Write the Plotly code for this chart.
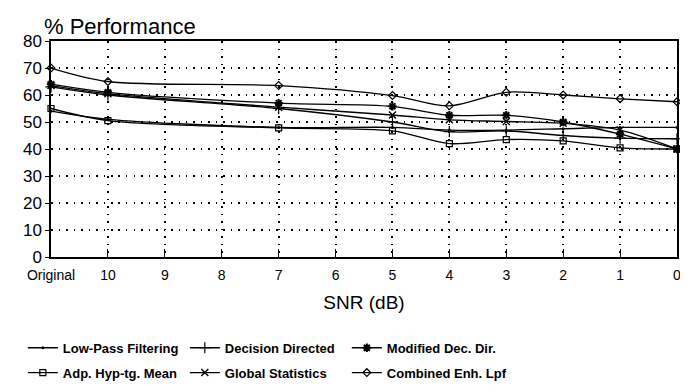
import plotly.graph_objects as go

snr_labels = ["Original", "10", "9", "8", "7", "6", "5", "4", "3", "2", "1", "0"]

low_pass = [54, 51, None, None, 48, None, 48, 47, 47, 47.5, 48, 48]
decision_directed = [63, 60, None, None, 55, None, 50, 46.4, 46.7, 45, 44, 43.8]
modified_dec_dir = [64, 61, None, None, 57, None, 55.8, 52.5, 52.5, 50, 45.5, 40]
adp_hyp_mean = [55, 50.5, None, None, 47.8, None, 46.7, 42, 43.5, 43, 40.4, 40]
global_stats = [63.5, 60.5, None, None, 55.5, None, 52.6, 50.8, 50.2, 49.5, 47, 40]
combined_enh = [70, 65, None, None, 63.5, None, 59.8, 56, 61, 60, 58.6, 57.5]

series = [
    ("Low-Pass Filtering", low_pass, dict(symbol="circle", size=3, color="black"), "legend"),
    ("Decision Directed", decision_directed, dict(symbol="cross-thin-open", size=8, color="black", line=dict(width=1.2, color="black")), "legend"),
    ("Modified Dec. Dir.", modified_dec_dir, dict(symbol="asterisk-open", size=7, color="black", line=dict(width=2, color="black")), "legend"),
    ("Adp. Hyp-tg. Mean", adp_hyp_mean, dict(symbol="square-open", size=6, color="black", line=dict(width=1.2, color="black")), "legend2"),
    ("Global Statistics", global_stats, dict(symbol="x-thin-open", size=7, color="black", line=dict(width=1.4, color="black")), "legend2"),
    ("Combined Enh. Lpf", combined_enh, dict(symbol="diamond-open", size=6, color="black", line=dict(width=1.2, color="black")), "legend2"),
]

fig = go.Figure()
for name, vals, mk, lg in series:
    xs = [i for i, v in enumerate(vals) if v is not None]
    ys = [v for v in vals if v is not None]
    fig.add_trace(go.Scatter(
        x=xs, y=ys, name=name, mode="lines+markers", legend=lg,
        line=dict(color="black", width=1.3, shape="spline", smoothing=0.9),
        marker=mk, cliponaxis=False,
    ))

leg_common = dict(
    orientation="h", xanchor="left", yanchor="top",
    entrywidth=117, entrywidthmode="pixels",
    font=dict(size=13, family="Liberation Sans, Arial, sans-serif", weight="bold"),
    itemwidth=30, bgcolor="rgba(0,0,0,0)",
)

fig.update_layout(
    width=688, height=391,
    margin=dict(l=43, r=19, t=33, b=129),
    paper_bgcolor="white", plot_bgcolor="white",
    font=dict(family="Liberation Sans, Arial, sans-serif", color="black"),
    showlegend=True,
    legend=dict(x=-0.045, y=-0.351, **leg_common),
    legend2=dict(x=-0.045, y=-0.466, **leg_common),
    annotations=[dict(
        text="% Performance", x=0, y=1, xref="paper", yref="paper",
        xanchor="left", yanchor="bottom", xshift=-9, yshift=0, showarrow=False,
        font=dict(size=22),
    )],
)

fig.update_xaxes(
    range=[0, 11], tickmode="array", tickvals=list(range(12)), ticktext=snr_labels,
    showgrid=True, gridcolor="black", griddash="1.5px,6px", gridwidth=1.5,
    showline=True, linecolor="black", linewidth=1.5, mirror=True,
    ticks="inside", ticklen=8, tickcolor="black", ticklabelstandoff=4,
    tickfont=dict(size=14), zeroline=False,
    title=dict(text="SNR (dB)", font=dict(size=19), standoff=14),
)
fig.update_yaxes(
    range=[0, 80], dtick=10,
    showgrid=True, gridcolor="black", griddash="1.5px,6px", gridwidth=1.5,
    showline=True, linecolor="black", linewidth=1.5, mirror=True,
    ticks="outside", ticklen=4, tickcolor="black",
    tickfont=dict(size=17), zeroline=False,
)

fig.write_html("out.html")
